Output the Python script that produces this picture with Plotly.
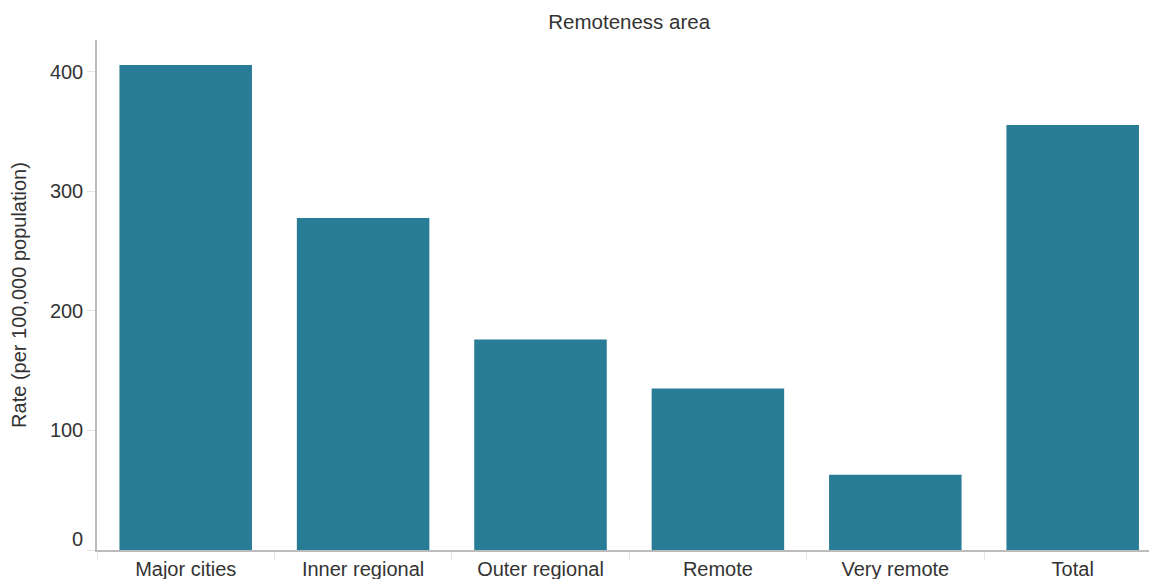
import plotly.graph_objects as go

categories = ["Major cities", "Inner regional", "Outer regional", "Remote", "Very remote", "Total"]
rates = [405.6, 277.7, 176.0, 135.0, 63.0, 355.5]
y_ticks = [0, 100, 200, 300, 400]

font_family = "Liberation Sans, Arial, sans-serif"
text_color = "#333333"
fs = 20

W, H = 1149, 579
L, R, T, B = 97, 0, 40, 29
cat_px = 177.4  # pixel width of one category in the reference
plot_w = W - L - R
x_hi = -0.5 + plot_w / cat_px

fig = go.Figure(go.Bar(
    x=categories,
    y=rates,
    marker=dict(color="#297c96", line=dict(width=0)),
    hoverinfo="x+y",
))

fig.update_layout(
    width=W,
    height=H,
    margin=dict(l=L, r=R, t=T, b=B),
    paper_bgcolor="white",
    plot_bgcolor="white",
    bargap=0.253,
    showlegend=False,
    font=dict(family=font_family, size=fs, color=text_color),
    title=dict(
        text="Remoteness area",
        x=(L + L + len(categories) * cat_px) / 2 / W,
        xanchor="center",
        y=1 - 22 / H,
        yanchor="middle",
        font=dict(family=font_family, size=20.5, color=text_color),
    ),
)

fig.update_xaxes(
    range=[-0.5, x_hi],
    showline=True,
    linecolor="#bbbbbb",
    linewidth=1.5,
    ticks="outside",
    tickson="boundaries",
    ticklen=8,
    tickcolor="#e6e6e6",
    showgrid=False,
    tickfont=dict(size=fs, color=text_color),
)

fig.update_yaxes(
    range=[0, 426.5],
    tickvals=y_ticks,
    ticktext=["" if v == y_ticks[0] else str(v) for v in y_ticks],
    showline=True,
    linecolor="#bbbbbb",
    linewidth=1.5,
    ticks="outside",
    ticklen=8,
    tickcolor="#e6e6e6",
    showgrid=False,
    zeroline=False,
    tickfont=dict(size=fs, color=text_color),
    title=dict(text="Rate (per 100,000 population)", font=dict(size=fs, color=text_color), standoff=18),
)

# the bottom tick label sits slightly above its tick in the reference
fig.add_annotation(
    text=str(y_ticks[0]),
    xref="paper", yref="y",
    x=0, y=y_ticks[0],
    xanchor="right", yanchor="middle",
    xshift=-12, yshift=11,
    showarrow=False,
    font=dict(size=fs, color=text_color),
)

fig.write_html(
    "out.html",
    config={"displayModeBar": False},
    post_script="document.body.style.margin='0';document.body.style.overflow='hidden';",
)
